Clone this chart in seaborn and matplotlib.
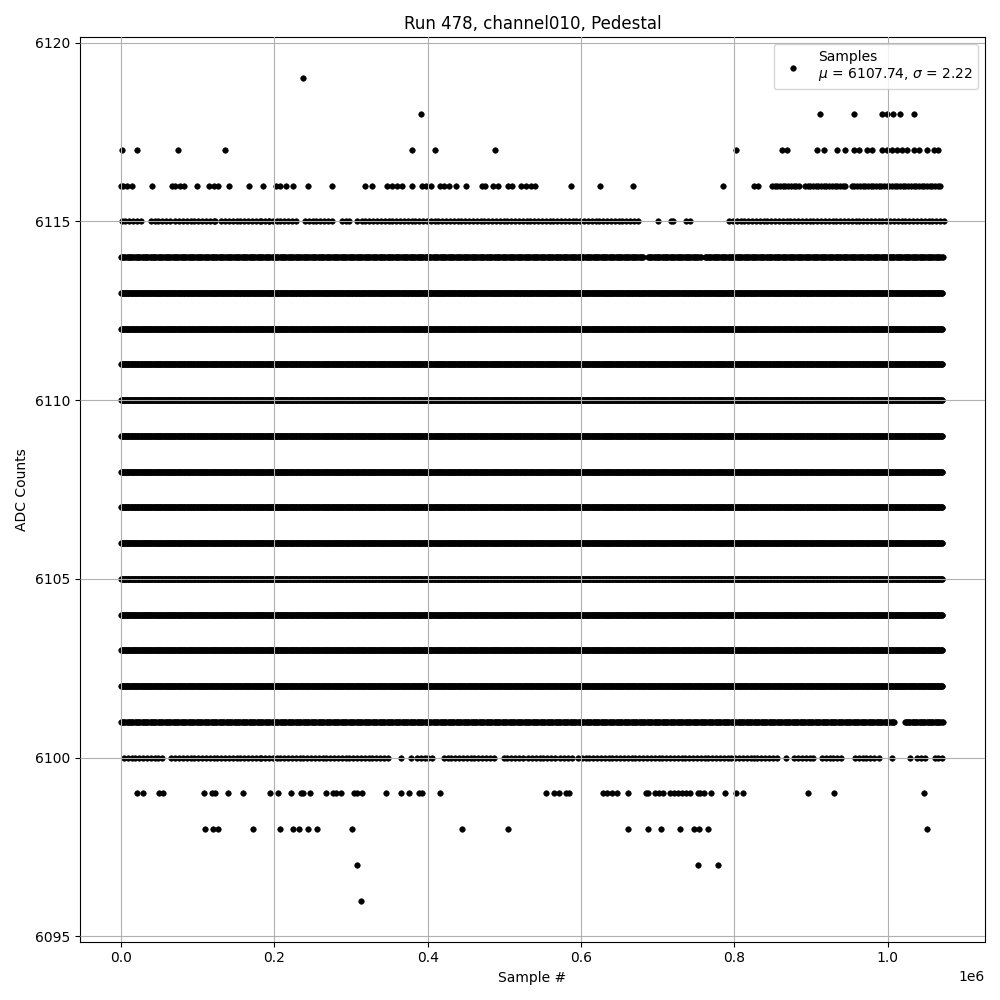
import numpy as np
import pandas as pd
import matplotlib.pyplot as plt
import seaborn as sns

# sample positions below are in thousands of samples
n_last = 1071

# ADC levels filled all through the run
full_levels = [6102, 6103, 6104, 6105, 6106, 6107, 6108, 6109, 6110, 6111, 6112, 6113]

# levels that are filled only in stretches: [start, end]
runs_6114 = [[0, 680], [687, 755], [761, 1071]]
runs_6101 = [[0, 1008], [1022, 1071]]
runs_6116 = [[849, 882], [892, 943], [953, 1067]]
runs_6115 = [[1, 25], [39, 61], [71, 118], [131, 177], [183, 190], [193, 226],
             [240, 274], [288, 297], [314, 373], [379, 670], [793, 1070]]
runs_6100 = [[4, 54], [66, 177], [183, 340], [386, 404], [421, 486], [499, 522],
             [531, 566], [573, 586], [596, 826], [830, 852], [878, 899], [914, 936],
             [957, 979], [1038, 1044], [1061, 1070]]

# isolated samples
pts_6119 = [237.7]
pts_6118 = [392, 911.7, 955.8, 992, 998.7, 1006.5, 1015.6, 1033.8]
pts_6117 = [1.3, 20.8, 75, 136, 379, 409, 488, 802.6, 862.3, 868.8, 907.8, 916.9,
            933.8, 944.2, 955.8, 962.3, 972.7, 979.2, 992.2, 998.7, 1005.2, 1011.7,
            1018.2, 1024.7, 1033.8, 1040.3, 1050.7, 1059.8, 1065]
pts_6116 = [0.5, 2.6, 7.8, 14.3, 40.3, 66.2, 70.1, 76.6, 81.8, 98.7, 115.6, 122.1,
            127.3, 141.6, 167.5, 185.7, 202.6, 207.8, 215.6, 224.7, 244.2, 275.3,
            318.2, 327.3, 346.8, 353.2, 359.7, 366.2, 379.2, 392.2, 397.4, 403.9,
            415.6, 420.8, 427.3, 436.4, 449.4, 471.4, 475.3, 485.7, 492.2, 505.2,
            510.4, 522.1, 528.6, 535.1, 540.3, 587.0, 624.7, 667.5, 785.7, 826.0, 831.2]
pts_6115 = [123.4, 307.8, 700, 717, 719.5, 736.4, 741.6]
pts_6100 = [348.1, 364.9, 377.9, 867.3, 988.3, 1005.2, 1028.6]
pts_6099 = [21.2, 29.0, 49.4, 54.9, 108.2, 118.6, 123.0, 139.4, 159.7, 194.8, 205.2,
            222.5, 234.7, 238.1, 246.8, 267.9, 276.6, 280.9, 287.4, 303.9, 308.2,
            314.7, 345.8, 365.3, 375.3, 389.2, 392.6, 416.0, 554.9, 564.9, 571.0,
            580.9, 584.0, 628.6, 634.2, 640.3, 647.1, 661.0, 684.8, 687.9, 696.5,
            702.2, 706.5, 716.5, 721.7, 726.0, 731.2, 736.8, 742.5, 751.9, 755.5,
            760.7, 769.2, 787.4, 801.7, 811.3, 895.7, 929.5, 1047.1]
pts_6098 = [109.5, 120.8, 127.3, 171.8, 206.9, 225.1, 232.9, 244.5, 256.2, 301.7,
            444.5, 504.3, 661.0, 687.9, 704.3, 729.5, 747.7, 754.1, 765.3, 1051.5]
pts_6097 = [308.2, 752.3, 778.3]
pts_6096 = [313.4]


def fill(level, runs, step):
    xs = [np.arange(a, b + step, step) for a, b in runs]
    xs = np.concatenate(xs)
    return pd.DataFrame({"x": xs, "y": level})


def points(level, xs):
    return pd.DataFrame({"x": np.array(xs, dtype=float), "y": level})


def main():
    frames = [fill(lv, [[0, n_last]], 1) for lv in full_levels]
    frames += [fill(6114, runs_6114, 1.5), fill(6101, runs_6101, 1.5),
               fill(6116, runs_6116, 3.5), fill(6115, runs_6115, 5),
               fill(6100, runs_6100, 5)]
    for lv, xs in [(6119, pts_6119), (6118, pts_6118), (6117, pts_6117),
                   (6116, pts_6116), (6115, pts_6115), (6100, pts_6100),
                   (6099, pts_6099), (6098, pts_6098), (6097, pts_6097),
                   (6096, pts_6096)]:
        frames.append(points(lv, xs))
    df = pd.concat(frames, ignore_index=True)
    df["x"] = df["x"] * 1000

    fig, ax = plt.subplots(figsize=(10, 10), dpi=100)
    sns.scatterplot(data=df, x="x", y="y", color="k", edgecolor="k", s=16,
                    linewidth=0.4, marker="o", ax=ax,
                    label="Samples\n$\\mu$ = 6107.74, $\\sigma$ = 2.22")
    ax.set_title("Run 478, channel010, Pedestal")
    ax.set(xlabel="Sample #", ylabel="ADC Counts")
    ax.grid(True)
    ax.set_axisbelow(False)
    ax.legend(loc="upper right")
    plt.tight_layout()
    plt.savefig("out.png")


if __name__ == '__main__':
    main()
